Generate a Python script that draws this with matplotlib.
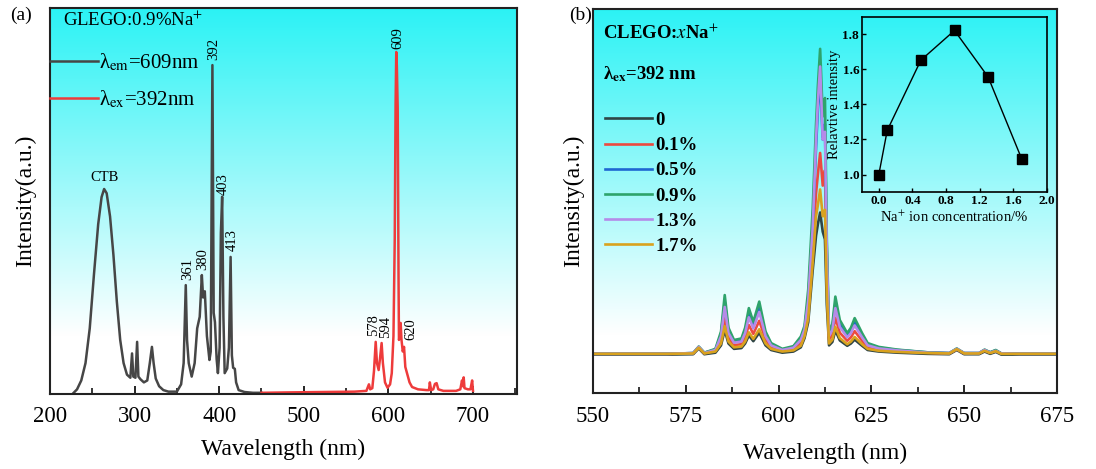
import matplotlib
matplotlib.use("Agg")
import matplotlib.pyplot as plt
from matplotlib.ticker import MultipleLocator
import numpy as np

plt.rcParams['font.family'] = ['Liberation Serif', 'DejaVu Serif']
plt.rcParams['mathtext.fontset'] = 'stix'

# ---- panel (a): excitation (monitor 609 nm) and emission (ex 392 nm)
ex_wl = [228, 232, 237, 242, 247, 252, 257, 261, 264, 267, 271, 275, 279, 283, 287,
         291, 295, 297, 298.5, 301, 303, 304.5, 307, 311, 315, 318, 320.5, 322.5, 325,
         329, 334, 340, 350, 355, 358, 360.5, 362, 364, 367.5, 371, 374, 377, 379.5,
         381, 383, 385.5, 388.5, 390, 392, 393.5, 395, 397, 398.5, 400.5, 402, 403.5,
         405, 406.5, 409.5, 411.5, 413.5, 415, 416.5, 418.5, 420, 423, 430, 440, 450]
ex_int = [0.3, 1.2, 3.5, 8, 17, 31, 44, 51, 53.1, 52, 46, 36, 24, 14, 8,
          5, 4.2, 10.5, 4.5, 4.2, 13.5, 4.5, 3.8, 3, 3.5, 8, 12.2, 8, 4,
          2, 1, 0.6, 0.6, 2.5, 8, 28.2, 14, 8, 4.5, 8, 17, 20, 30.8,
          25, 26.6, 15, 8.8, 11, 85.2, 21, 18.6, 9, 5.4, 12, 41.7, 51.1,
          20, 5.4, 6.6, 12, 35.5, 10, 6.8, 6.5, 3, 1, 0.5, 0.3, 0.3]

em_wl = [450, 480, 520, 560, 574, 577, 578.5, 581, 583, 585, 586.5, 588.5, 590, 592,
         593.5, 596, 599, 602, 604, 606, 607.5, 608.5, 609.3, 610, 611, 612, 612.5,
         613.5, 614.5, 615.5, 617, 618.5, 620, 622, 625, 628, 635, 645, 648, 649,
         650.5, 653, 655, 657, 659, 665, 680, 685, 687, 688, 689, 690, 694, 697, 699, 700]
em_int = [0.3, 0.4, 0.5, 0.6, 0.8, 2.5, 1.2, 1.5, 6, 13.5, 8, 6.2, 9, 13.2,
          8, 3, 1.6, 2.5, 5.4, 15, 40, 75, 88.6, 85, 74, 30, 14,
          15, 18.4, 14, 11, 12.2, 7, 5.4, 3, 1.8, 1.2, 1, 1, 3,
          1, 1.2, 2.6, 2.8, 1.2, 0.8, 0.8, 1.2, 3.5, 2, 4.3, 1.5, 1.2, 1.2, 3.5, 0.8]

peak_labels = ['CTB', '361', '380', '392', '403', '413', '578', '594', '609', '620']
peak_x = [265, 362.5, 380, 393.5, 405, 416, 583, 597, 611.5, 626]
peak_y = [56, 29.5, 32, 86.5, 51.5, 37, 15, 14.5, 89.5, 14]

# ---- panel (b): emission spectra vs Na+ content
wl_b = [550, 570, 577, 578.5, 580, 583, 584.5, 585.5, 586.5, 588, 590, 591, 592, 593.2,
        594.8, 596.5, 598, 601, 604, 606, 607, 608, 609.2, 610.1, 610.6, 611.2, 611.9,
        612.5, 613.0, 613.6, 614.5, 615.3, 616.5, 618.5, 619.5, 620.5, 622.5, 624, 627,
        632, 640, 646, 648, 650, 654, 655.5, 657, 658.5, 660, 665, 675]
int_0 = [10.0, 10.0, 10.1, 11.6, 10.1, 10.5, 12.4, 16.4, 12.9, 11.5, 11.7, 12.9, 15.0, 13.5,
         15.7, 12.4, 11.2, 10.5, 10.8, 11.9, 14.3, 18.5, 32, 41, 44, 47, 42,
         40, 23, 12.4, 13.3, 16.3, 13.7, 12.3, 12.9, 13.9, 12.3, 11.2, 10.8,
         10.5, 10.2, 10.1, 11.2, 10.1, 10.1, 10.8, 10.2, 10.7, 10.0, 10.0, 10.0]
int_01 = [10.2, 10.2, 10.3, 11.9, 10.4, 11.0, 13.9, 19.8, 14.5, 12.5, 12.7, 14.5, 17.7, 15.4,
          18.8, 13.9, 12.0, 11.0, 11.5, 13.0, 15.5, 21, 38, 52, 57, 62.5, 54,
          58, 31, 13.9, 15.1, 19.6, 15.7, 13.6, 14.5, 16.1, 13.6, 12.0, 11.3,
          10.9, 10.5, 10.3, 11.4, 10.3, 10.3, 11.1, 10.5, 11.0, 10.3, 10.2, 10.2]
int_05 = [10.2, 10.2, 10.4, 12.0, 10.5, 11.3, 15.3, 23.7, 16.2, 13.4, 13.7, 16.2, 20.7, 17.5,
          22.2, 15.3, 12.7, 11.3, 12.0, 14.2, 16.8, 24.5, 44, 64, 74, 82, 66,
          70, 37, 15.3, 17.1, 23.3, 18, 15, 16.2, 18.4, 15, 12.7, 11.8,
          11.2, 10.6, 10.4, 11.5, 10.4, 10.4, 11.2, 10.6, 11.1, 10.3, 10.2, 10.2]
int_09 = [10.2, 10.2, 10.4, 12.1, 10.5, 11.5, 16, 25.5, 17, 13.8, 14.2, 17, 22.1, 18.5,
          23.8, 16, 13, 11.5, 12.2, 14.7, 17.5, 27, 48, 70, 80, 89.6, 72,
          76.8, 40, 16, 18, 25.1, 19, 15.6, 17, 19.5, 15.6, 13, 12,
          11.3, 10.6, 10.4, 11.6, 10.4, 10.4, 11.3, 10.6, 11.2, 10.3, 10.2, 10.2]
int_13 = [10.2, 10.2, 10.4, 12.0, 10.4, 11.2, 14.8, 22.4, 15.6, 13.1, 13.4, 15.6, 19.7, 16.8,
          21.1, 14.8, 12.4, 11.2, 11.8, 13.8, 16.5, 24, 43, 66, 76, 85, 66,
          68, 36, 14.8, 16.4, 22.1, 17.2, 14.5, 15.6, 17.6, 14.5, 12.4, 11.6,
          11.1, 10.5, 10.4, 11.5, 10.4, 10.4, 11.2, 10.5, 11.0, 10.3, 10.2, 10.2]
int_17 = [10.2, 10.2, 10.3, 11.8, 10.3, 10.8, 12.9, 17.4, 13.4, 11.9, 12.1, 13.4, 15.8, 14.1,
          16.6, 12.9, 11.5, 10.8, 11.1, 12.3, 14.8, 19.5, 34, 46, 49, 53, 46,
          47.7, 26, 12.9, 13.9, 17.2, 14.3, 12.7, 13.4, 14.6, 12.7, 11.5, 11.0,
          10.7, 10.4, 10.3, 11.4, 10.3, 10.3, 11.0, 10.4, 10.9, 10.2, 10.2, 10.2]
series_b = [int_0, int_01, int_05, int_09, int_13, int_17]
labels_b = ['0', '0.1%', '0.5%', '0.9%', '1.3%', '1.7%']
colors_b = ['#2f4545', '#ec4a3f', '#1f66d2', '#2ea36b', '#b58be8', '#d9a21e']

# inset: relative intensity vs Na+ concentration
na_conc = [0.0, 0.1, 0.5, 0.9, 1.3, 1.7]
rel_int = [1.0, 1.252, 1.653, 1.823, 1.557, 1.088]


def gradient_bg(fig, pos):
    bg = fig.add_axes(pos, zorder=0)
    f = np.linspace(0, 1, 256)
    t = np.clip((f - 0.15) / 0.85, 0, 1)
    top = np.array([0.17, 0.95, 0.96])
    img = 1 - t[:, None] * (1 - top)
    bg.imshow(img[:, None, :], extent=[0, 1, 0, 1], origin='lower', aspect='auto')
    bg.set_axis_off()


def style_axis(ax, major, minor):
    for s in ax.spines.values():
        s.set_linewidth(1.5)
        s.set_color('#222222')
    ax.xaxis.set_major_locator(MultipleLocator(major))
    ax.xaxis.set_minor_locator(MultipleLocator(minor))
    ax.tick_params(axis='x', which='major', direction='in', length=6, width=1.2,
                   labelsize=16.5, pad=9)
    ax.tick_params(axis='x', which='minor', direction='in', length=4, width=1.1)
    ax.set_yticks([])
    ax.set_facecolor('none')


fig = plt.figure(figsize=(10.96, 4.69), dpi=100)

# ---------------- (a)
pos_a = [0.0456, 0.160, 0.4261, 0.823]
gradient_bg(fig, pos_a)
ax1 = fig.add_axes(pos_a, zorder=1)
ax1.plot(ex_wl, ex_int, color='#464646', lw=1.8, label='λ$_{\\rm em}$=609nm')
ax1.plot(em_wl, em_int, color='#ee3b3b', lw=1.8, label='λ$_{\\rm ex}$=392nm')
ax1.set_xlim(200, 752)
ax1.set_ylim(0, 100)
style_axis(ax1, 100, 50)
ax1.set_xlabel('Wavelength (nm)', fontsize=17, labelpad=8)
ax1.set_ylabel('Intensity(a.u.)', fontsize=17, labelpad=10)
ax1.legend(loc='upper left', bbox_to_anchor=(0.0, 0.886), frameon=False, fontsize=15,
           handlelength=2.3, handletextpad=0.05, borderpad=0, borderaxespad=0,
           labelspacing=0.7)
ax1.text(0.028, 0.969, 'GLEGO:0.9%Na$^{+}$', transform=ax1.transAxes, fontsize=13.5,
         va='center', ha='left')
for lab, px, py in zip(peak_labels, peak_x, peak_y):
    if lab == 'CTB':
        ax1.text(px, py, lab, fontsize=10.5, ha='center', va='center')
    else:
        ax1.text(px, py, lab, fontsize=10.5, ha='center', va='bottom', rotation=90)
fig.text(0.009, 0.968, '(a)', fontsize=14, va='center', ha='left')

# ---------------- (b)
pos_b = [0.541, 0.162, 0.4234, 0.819]
gradient_bg(fig, pos_b)
ax2 = fig.add_axes(pos_b, zorder=1)
for y, lab, c in zip(series_b, labels_b, colors_b):
    ax2.plot(wl_b, y, color=c, lw=1.9, label=lab)
ax2.set_xlim(550, 675)
ax2.set_ylim(0, 100)
style_axis(ax2, 25, 12.5)
ax2.set_xlabel('Wavelength (nm)', fontsize=17, labelpad=12)
ax2.set_ylabel('Intensity(a.u.)', fontsize=17, labelpad=6)
ax2.legend(loc='upper left', bbox_to_anchor=(0.026, 0.732), frameon=False,
           prop={'weight': 'bold', 'size': 13.5}, handlelength=2.5, handletextpad=0.2,
           borderpad=0, borderaxespad=0, labelspacing=0.43)
ax2.text(0.022, 0.937, 'CLEGO:$\\mathbf{\\mathit{x}}$Na$^{+}$', transform=ax2.transAxes,
         fontsize=13.5, fontweight='bold', va='center', ha='left')
ax2.text(0.022, 0.83, 'λ$_{\\mathbf{ex}}$=392 nm', transform=ax2.transAxes,
         fontsize=13.5, fontweight='bold', va='center', ha='left')
fig.text(0.519, 0.968, '(b)', fontsize=14, va='center', ha='left')

# inset
ins = fig.add_axes([0.7865, 0.5906, 0.1688, 0.3732], zorder=2)
ins.set_facecolor('none')
ins.plot(na_conc, rel_int, color='black', lw=1.0, marker='s', markersize=6.5)
ins.set_xlim(-0.2, 2.0)
ins.set_ylim(0.9, 1.9)
ins.set_xticks([0.0, 0.4, 0.8, 1.2, 1.6, 2.0])
ins.set_yticks([1.0, 1.2, 1.4, 1.6, 1.8])
ins.tick_params(direction='in', length=3, width=1, labelsize=9.5, pad=2)
for lab in ins.get_xticklabels() + ins.get_yticklabels():
    lab.set_fontweight('bold')
for s in ins.spines.values():
    s.set_linewidth(1.2)
ins.set_xlabel('Na$^{+}$ ion concentration/%', fontsize=10.5, labelpad=2)
ins.set_ylabel('Relavtive intensity', fontsize=10.5, labelpad=1)

fig.savefig('out.png', dpi=100)
